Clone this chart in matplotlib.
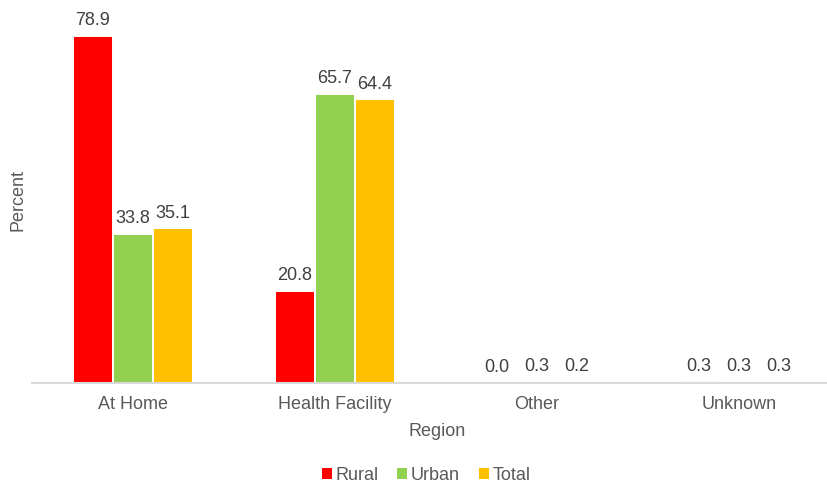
import matplotlib
matplotlib.use("Agg")
import matplotlib.pyplot as plt
import numpy as np
from matplotlib.patches import Patch

categories = ["At Home", "Health Facility", "Other", "Unknown"]
series_names = ["Rural", "Urban", "Total"]
rural = [78.9, 20.8, 0.0, 0.3]
urban = [33.8, 65.7, 0.3, 0.3]
total = [35.1, 64.4, 0.2, 0.3]
colors = ["#FF0000", "#92D050", "#FFC000"]

plt.rcParams["font.family"] = ["Liberation Sans", "DejaVu Sans"]
text_color = "#595959"
fs = 13

W, H = 827, 485
fig = plt.figure(figsize=(W / 100, H / 100), dpi=100)
base_px = 383.5
ax = fig.add_axes([32 / W, (H - base_px) / H, 808 / W, base_px / H])

x = np.arange(len(categories))
width = 0.198
for i, (vals, name, col) in enumerate(zip([rural, urban, total], series_names, colors)):
    pos = x + (i - 1) * width
    bars = ax.bar(pos, vals, width, color=col, edgecolor="white", linewidth=1.4, label=name)
    for b, v in zip(bars, vals):
        ax.annotate(f"{v:.1f}", (b.get_x() + b.get_width() / 2, v),
                    xytext=(0, 5.5), textcoords="offset points",
                    ha="center", va="bottom", fontsize=fs, color="#404040")

ax.set_xlim(-0.5, len(categories) - 0.5)
ax.set_ylim(0, base_px / 4.395)
ax.set_xticks(x)
ax.set_xticklabels(categories, fontsize=fs, color=text_color)
ax.tick_params(axis="x", length=0, pad=9)
ax.set_yticks([])
for s in ["top", "right", "left"]:
    ax.spines[s].set_visible(False)
ax.spines["bottom"].set_color("#D9D9D9")
ax.spines["bottom"].set_linewidth(1.5)

fig.text(437 / W, 1 - 432 / H, "Region", ha="center", va="center", fontsize=fs, color=text_color)
fig.text(18 / W, 1 - 200 / H, "Percent", ha="center", va="center", rotation=90, fontsize=fs, color=text_color)

handles = [Patch(facecolor=c, edgecolor="none") for c in colors]
fig.legend(handles, series_names, loc="center", bbox_to_anchor=(426 / W, 1 - 476 / H),
           ncol=3, frameon=False, fontsize=fs, handlelength=0.55, handleheight=0.55,
           handletextpad=0.2, columnspacing=1.05, labelcolor=text_color)

fig.savefig("out.png", dpi=100)
